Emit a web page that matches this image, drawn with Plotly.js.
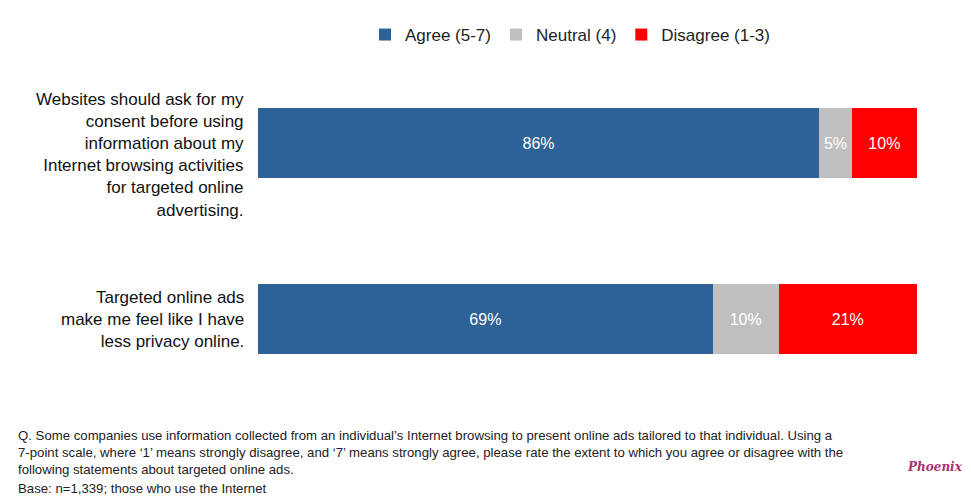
<!DOCTYPE html>
<html>
<head>
<meta charset="utf-8">
<script src="https://cdn.plot.ly/plotly-3.0.1.min.js"></script>
<style>html,body{margin:0;padding:0;background:#fff;}#chart{width:971px;height:498px;}</style>
</head>
<body>
<div id="chart"></div>
<script>
const categories = [
  "Websites should ask for my<br>consent before using<br>information about my<br>Internet browsing activities<br>for targeted online<br>advertising.",
  "Targeted online ads<br>make me feel like I have<br>less privacy online."
];
const seriesNames = ["Agree (5-7)", "Neutral (4)", "Disagree (1-3)"];
const agree = [86, 69];
const neutral = [5, 10];
const disagree = [10, 21];
const colors = ["#2D6298", "#BFBFBF", "#FF0000"];

const footnoteLines = [
  "Q. Some companies use information collected from an individual’s Internet browsing to present online ads tailored to that individual. Using a",
  "7-point scale, where ‘1’ means strongly disagree, and ‘7’ means strongly agree, please rate the extent to which you agree or disagree with the",
  "following statements about targeted online ads."
];
const baseNote = "Base: n=1,339; those who use the Internet";

const FONT = "Liberation Sans, Arial, sans-serif";

const seriesValues = [agree, neutral, disagree];
const traces = seriesValues.map((vals, i) => ({
  type: "bar",
  orientation: "h",
  name: seriesNames[i],
  y: categories,
  x: vals,
  text: vals,
  texttemplate: "%{text}%",
  textposition: "inside",
  insidetextanchor: "middle",
  textfont: {color: "#ffffff", size: 16, family: FONT},
  marker: {color: colors[i]},
  width: 0.4,
  hoverinfo: "skip"
}));

const W = 971, L = 258, R = 54, T = 55, B = 91;
const pw = W - L - R;
const px = p => (p - L) / pw;

// category labels drawn as annotations anchored to the category positions
const labelShifts = [-12, 0];
const catAnnotations = categories.map((c, i) => ({
  xref: "paper", yref: "y",
  x: px(246), y: c, xanchor: "right", yanchor: "middle",
  align: "right",
  yshift: labelShifts[i],
  text: c,
  showarrow: false,
  font: {size: 17, family: FONT, color: "#111"}
}));

const layout = {
  width: 971,
  height: 498,
  margin: {l: L, r: R, t: T, b: B},
  paper_bgcolor: "#ffffff",
  plot_bgcolor: "#ffffff",
  barmode: "stack",
  barnorm: "percent",
  showlegend: true,
  legend: {
    orientation: "h",
    x: px(570), xanchor: "center",
    y: 1 + 20 / 352, yanchor: "middle",
    font: {size: 17, family: FONT, color: "#222"},
    itemwidth: 30,
    traceorder: "normal"
  },
  xaxis: {
    range: [0, 100],
    showgrid: false, zeroline: false, showticklabels: false, showline: false, fixedrange: true
  },
  yaxis: {
    autorange: "reversed",
    showgrid: false, zeroline: false, showline: false, ticks: "",
    showticklabels: false
  },
  annotations: catAnnotations.concat([
    {
      xref: "paper", yref: "paper",
      x: px(16), y: -(426 - 407) / 352, xanchor: "left", yanchor: "top",
      align: "left",
      text: footnoteLines.join("<br>"),
      showarrow: false,
      font: {size: 13.2, family: FONT, color: "#222"}
    },
    {
      xref: "paper", yref: "paper",
      x: px(16), y: -(479 - 407) / 352, xanchor: "left", yanchor: "top",
      align: "left",
      text: baseNote,
      showarrow: false,
      font: {size: 13.2, family: FONT, color: "#222"}
    },
    {
      xref: "paper", yref: "paper",
      x: px(935), y: -(467 - 407) / 352, xanchor: "center", yanchor: "middle",
      text: "<i><b>Phoenix</b></i>",
      showarrow: false,
      font: {size: 12, family: "DejaVu Serif, serif", color: "#B0306A"}
    }
  ])
};

Plotly.newPlot("chart", traces, layout, {displayModeBar: false, staticPlot: true});
</script>
</body>
</html>
